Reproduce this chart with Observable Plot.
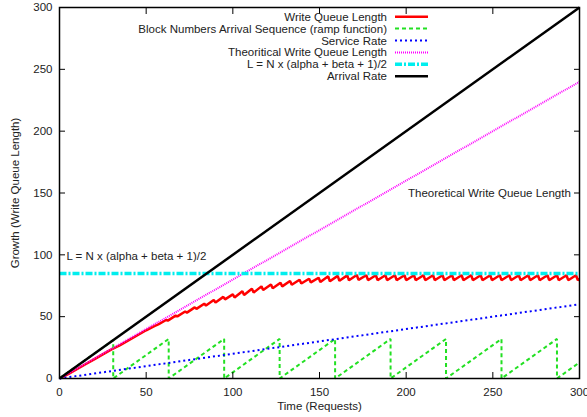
<!DOCTYPE html>
<html>
<head>
<meta charset="utf-8">
<script src="https://cdn.jsdelivr.net/npm/d3@7"></script>
<script src="https://cdn.jsdelivr.net/npm/@observablehq/plot@0.6"></script>
<style>
  html, body { margin: 0; padding: 0; background: #fff; }
  #chart svg { font-family: "Liberation Sans", Arial, sans-serif; }
</style>
</head>
<body>
<div id="chart"></div>
<script>
// ---- data ----
const xTicks = [0, 50, 100, 150, 200, 250, 300];
const yTicks = [0, 50, 100, 150, 200, 250, 300];

const legendLabels = [
  "Write Queue Length",
  "Block Numbers Arrival Sequence (ramp function)",
  "Service Rate",
  "Theoritical Write Queue Length",
  "L = N x (alpha + beta + 1)/2",
  "Arrival Rate"
];

// Write Queue Length (red)
const writeQueue = [
  [0,0],[5,3.5],[10,7.5],[15,11.5],[20,15.5],[25,19.5],[30,23.5],[35,27],[40,31],[45,35],[50,39],[55,42.5],
  [57,43.8],[61.5,47.3],[62.5,46.8],[67,50.8],[68,50.2],[72.5,54.2],[73.5,53.3],[78,57.5],[79,56.3],[83.5,60.5],
  [84.5,59],[89,63.5],[90,61.5],[94.5,66],[95.5,64],[100,68],[101,65.5],[105.5,70.5],
  [106.5,67.5],[111,72.5],[112,69.5],[116.5,74.5],[117.5,71.5],[122,76],[123,73],[127.5,77.5],
  [128.5,74.5],[133,78.8],[134,75.8],[138.5,79.8],[139.5,76.8],[144,80.7],[145,77.7],[149.5,81.5],
  [150.5,78],[155,82.6],[156,78.6],[160.5,83],[161.5,79],[166,83.4],[167,79.4],[171.5,83.7],
  [172.5,79.7],[177,83.5],[178,79.5],[182.5,83.5],[183.5,79.5],[188,83.5],[189,79.5],[193.5,83.5],
  [194.5,79.5],[199,83.5],[200,79.5],[204.5,83.5],[205.5,79.5],[210,83.5],[211,79.5],[215.5,83.5],
  [216.5,79.5],[221,83.5],[222,79.5],[226.5,83.5],[227.5,79.5],[232,83.5],[233,79.5],[237.5,83.5],
  [238.5,79.5],[243,83.5],[244,79.5],[248.5,83.5],[249.5,79.5],[254,83.5],[255,79.5],[259.5,83.5],
  [260.5,79.5],[265,83.5],[266,79.5],[270.5,83.5],[271.5,79.5],[276,83.5],[277,79.5],[281.5,83.5],
  [282.5,79.5],[287,83.5],[288,79.5],[292.5,83.5],[293.5,79.5],[298,83.5],[299,79.5],[300,80.3]
];

// Block Numbers Arrival Sequence (green ramp)
const rampSeq = [
  [0,0],[31,31],[31,0],[63,32],[63,0],[95,32],[95,0],[127,32],[127,0],[159,32],[159,0],
  [191,32],[191,0],[223,32],[223,0],[255,32],[255,0],[287,32],[287,0],[300,13]
];

// Service Rate (blue)
const serviceRate = [[0,0],[300,60]];
// Theoretical Write Queue Length (magenta)
const theoretical = [[0,0],[300,240]];
// L = N x (alpha + beta + 1)/2 (cyan)
const levelL = [[0,85],[300,85]];
// Arrival Rate (black)
const arrivalRate = [[0,0],[300,300]];

const annotations = [
  {x: 295, y: 150, text: "Theoretical Write Queue Length", anchor: "end"},
  {x: 4, y: 98.5, text: "L = N x (alpha + beta + 1)/2", anchor: "start"}
];

// ---- styles ----
const styles = [
  {stroke: "#ff0000", strokeWidth: 2.5, dash: null},
  {stroke: "#22e022", strokeWidth: 2, dash: "4,3"},
  {stroke: "#0000ff", strokeWidth: 2, dash: "2,3"},
  {stroke: "#ff00ff", strokeWidth: 2, dash: "1,1"},
  {stroke: "#00eeee", strokeWidth: 3.5, dash: "7,2,2,2"},
  {stroke: "#000000", strokeWidth: 2.5, dash: null}
];
const seriesData = [writeQueue, rampSeq, serviceRate, theoretical, levelL, arrivalRate];
const drawOrder = [0, 1, 2, 3, 4, 5];

const lineMarks = drawOrder.map(i => Plot.line(seriesData[i], {
  x: d => d[0], y: d => d[1],
  stroke: styles[i].stroke, strokeWidth: styles[i].strokeWidth,
  strokeDasharray: styles[i].dash || undefined,
  strokeLinejoin: "miter", strokeLinecap: "butt"
}));

const plot = Plot.plot({
  width: 587, height: 417,
  marginLeft: 59, marginRight: 8, marginTop: 7, marginBottom: 39,
  style: {fontFamily: "Liberation Sans, Arial, sans-serif", fontSize: "11.5px", color: "#222", background: "#fff"},
  x: {domain: [0, 300]},
  y: {domain: [0, 300]},
  marks: [
    ...lineMarks,
    Plot.text(annotations.filter(a => a.anchor === "end"), {x: "x", y: "y", text: "text", textAnchor: "end", fontSize: 11.5, fill: "#222"}),
    Plot.text(annotations.filter(a => a.anchor === "start"), {x: "x", y: "y", text: "text", textAnchor: "start", fontSize: 11.5, fill: "#222"}),
    Plot.axisX({anchor: "bottom", ticks: xTicks, tickSize: 0, tickPadding: 9, label: "Time (Requests)", labelAnchor: "center", labelOffset: 31, labelArrow: "none"}),
    Plot.axisY({anchor: "left", ticks: yTicks, tickSize: 0, tickPadding: 7, label: "Growth (Write Queue Length)", labelAnchor: "center", labelOffset: 49, labelArrow: "none"}),
    Plot.axisX({anchor: "bottom", ticks: xTicks, tickSize: -6, text: null, label: null, stroke: "#000"}),
    Plot.axisX({anchor: "top", ticks: xTicks, tickSize: -6, text: null, label: null, stroke: "#000"}),
    Plot.axisY({anchor: "left", ticks: yTicks, tickSize: -6, text: null, label: null, stroke: "#000"}),
    Plot.axisY({anchor: "right", ticks: yTicks, tickSize: -6, text: null, label: null, stroke: "#000"}),
    Plot.frame({stroke: "#000", strokeWidth: 1.5})
  ]
});

document.getElementById("chart").appendChild(plot);

// ---- legend (inside plot, top right) ----
const svg = d3.select(plot);
const lg = svg.append("g").attr("class", "legend");
legendLabels.forEach((label, i) => {
  const yy = 16.7 + i * 11.9;
  lg.append("text")
    .attr("x", 387).attr("y", yy).attr("dy", "0.35em")
    .attr("text-anchor", "end")
    .attr("font-size", "11.5px")
    .attr("fill", "#222")
    .attr("font-family", "Liberation Sans, Arial, sans-serif")
    .text(label);
  const s = styles[i];
  lg.append("line")
    .attr("x1", 395).attr("x2", 428).attr("y1", yy).attr("y2", yy)
    .attr("stroke", s.stroke).attr("stroke-width", s.strokeWidth)
    .attr("stroke-dasharray", s.dash || null);
});
</script>
</body>
</html>
